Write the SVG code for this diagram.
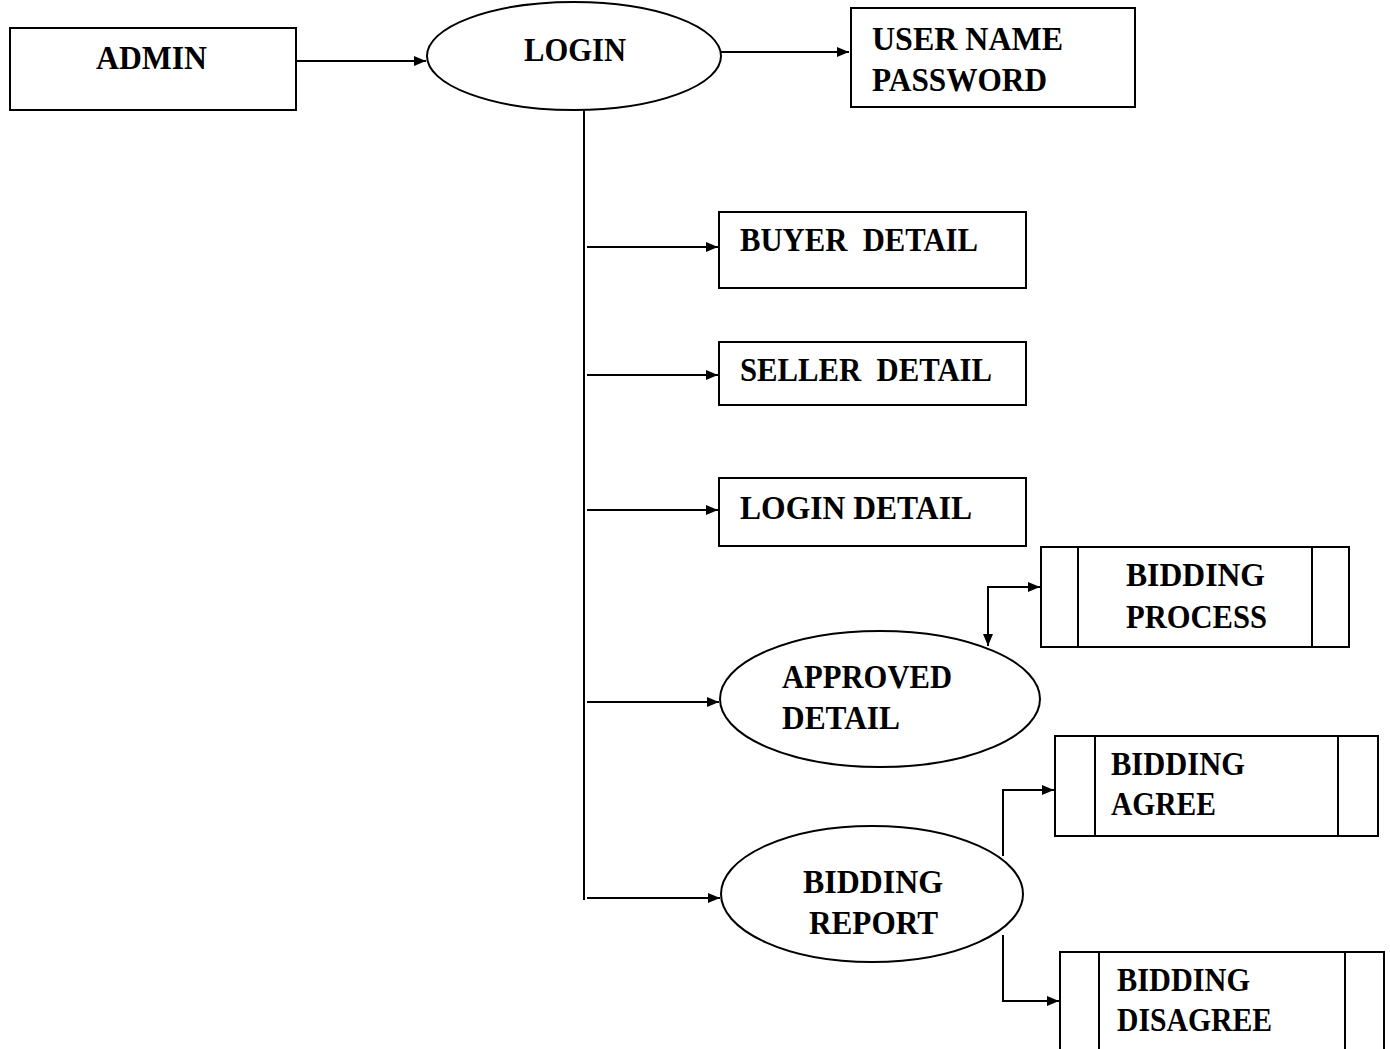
<svg xmlns="http://www.w3.org/2000/svg" width="1390" height="1049" viewBox="0 0 1390 1049">
  <style>
    .box { fill: #fff; stroke: #000; stroke-width: 2; }
    .div { stroke: #000; stroke-width: 2; }
    .lbl { font-family: "Liberation Serif", "Times New Roman", serif; font-weight: bold; font-size: 34px; fill: #000; }
    .wire { fill: none; stroke: #000; stroke-width: 2; }
  </style>
  <defs>
    <marker id="arrow" viewBox="0 0 12 10" refX="12" refY="5" markerWidth="12" markerHeight="10" markerUnits="userSpaceOnUse" orient="auto-start-reverse">
      <path d="M0,0 L12,5 L0,10 Z" fill="#000"/>
    </marker>
  </defs>

  <rect width="1390" height="1049" fill="#fff"/>

  <!-- connectors -->
  <g id="connectors">
    <line class="wire" x1="296" y1="61" x2="426" y2="61" marker-end="url(#arrow)"/>
    <line class="wire" x1="721" y1="52" x2="849" y2="52" marker-end="url(#arrow)"/>
    <line class="wire" x1="584" y1="110" x2="584" y2="900"/>
    <line class="wire" x1="587" y1="247" x2="718" y2="247" marker-end="url(#arrow)"/>
    <line class="wire" x1="587" y1="375" x2="718" y2="375" marker-end="url(#arrow)"/>
    <line class="wire" x1="587" y1="510" x2="718" y2="510" marker-end="url(#arrow)"/>
    <line class="wire" x1="587" y1="702" x2="719" y2="702" marker-end="url(#arrow)"/>
    <line class="wire" x1="587" y1="898" x2="720" y2="898" marker-end="url(#arrow)"/>
    <polyline class="wire" points="988,646 988,587 1040,587" marker-start="url(#arrow)" marker-end="url(#arrow)"/>
    <polyline class="wire" points="1003,856 1003,790 1054,790" marker-end="url(#arrow)"/>
    <polyline class="wire" points="1003,935 1003,1001 1059,1001" marker-end="url(#arrow)"/>
  </g>

  <g id="admin">
    <rect class="box" x="10" y="28" width="286" height="82"/>
    <text class="lbl" x="96" y="69" textLength="111" lengthAdjust="spacingAndGlyphs">ADMIN</text>
  </g>

  <g id="login">
    <ellipse class="box" cx="574" cy="56" rx="147" ry="54"/>
    <text class="lbl" x="524" y="61" textLength="102" lengthAdjust="spacingAndGlyphs">LOGIN</text>
  </g>

  <g id="credentials">
    <rect class="box" x="851" y="8" width="284" height="99"/>
    <text class="lbl" x="872" y="50" textLength="191" lengthAdjust="spacingAndGlyphs">USER NAME</text>
    <text class="lbl" x="872" y="91" textLength="175" lengthAdjust="spacingAndGlyphs">PASSWORD</text>
  </g>

  <g id="buyer-detail">
    <rect class="box" x="719" y="212" width="307" height="76"/>
    <text class="lbl" x="740" y="251" textLength="238" lengthAdjust="spacingAndGlyphs" xml:space="preserve">BUYER  DETAIL</text>
  </g>

  <g id="seller-detail">
    <rect class="box" x="719" y="342" width="307" height="63"/>
    <text class="lbl" x="740" y="381" textLength="252" lengthAdjust="spacingAndGlyphs" xml:space="preserve">SELLER  DETAIL</text>
  </g>

  <g id="login-detail">
    <rect class="box" x="719" y="478" width="307" height="68"/>
    <text class="lbl" x="740" y="519" textLength="232" lengthAdjust="spacingAndGlyphs">LOGIN DETAIL</text>
  </g>

  <g id="bidding-process">
    <rect class="box" x="1041" y="547" width="308" height="100"/>
    <line class="div" x1="1078" y1="547" x2="1078" y2="647"/>
    <line class="div" x1="1312" y1="547" x2="1312" y2="647"/>
    <text class="lbl" x="1126" y="586" textLength="139" lengthAdjust="spacingAndGlyphs">BIDDING</text>
    <text class="lbl" x="1126" y="628" textLength="141" lengthAdjust="spacingAndGlyphs">PROCESS</text>
  </g>

  <g id="approved-detail">
    <ellipse class="box" cx="880" cy="699" rx="160" ry="68"/>
    <text class="lbl" x="782" y="688" textLength="170" lengthAdjust="spacingAndGlyphs">APPROVED</text>
    <text class="lbl" x="782" y="729" textLength="118" lengthAdjust="spacingAndGlyphs">DETAIL</text>
  </g>

  <g id="bidding-agree">
    <rect class="box" x="1055" y="736" width="323" height="100"/>
    <line class="div" x1="1095" y1="736" x2="1095" y2="836"/>
    <line class="div" x1="1338" y1="736" x2="1338" y2="836"/>
    <text class="lbl" x="1111" y="775" textLength="134" lengthAdjust="spacingAndGlyphs">BIDDING</text>
    <text class="lbl" x="1111" y="815" textLength="105" lengthAdjust="spacingAndGlyphs">AGREE</text>
  </g>

  <g id="bidding-report">
    <ellipse class="box" cx="872" cy="894" rx="151" ry="68"/>
    <text class="lbl" x="803" y="893" textLength="140" lengthAdjust="spacingAndGlyphs">BIDDING</text>
    <text class="lbl" x="809" y="934" textLength="129" lengthAdjust="spacingAndGlyphs">REPORT</text>
  </g>

  <g id="bidding-disagree">
    <rect class="box" x="1060" y="952" width="324" height="110"/>
    <line class="div" x1="1099" y1="952" x2="1099" y2="1062"/>
    <line class="div" x1="1345" y1="952" x2="1345" y2="1062"/>
    <text class="lbl" x="1117" y="991" textLength="133" lengthAdjust="spacingAndGlyphs">BIDDING</text>
    <text class="lbl" x="1117" y="1031" textLength="155" lengthAdjust="spacingAndGlyphs">DISAGREE</text>
  </g>
</svg>
